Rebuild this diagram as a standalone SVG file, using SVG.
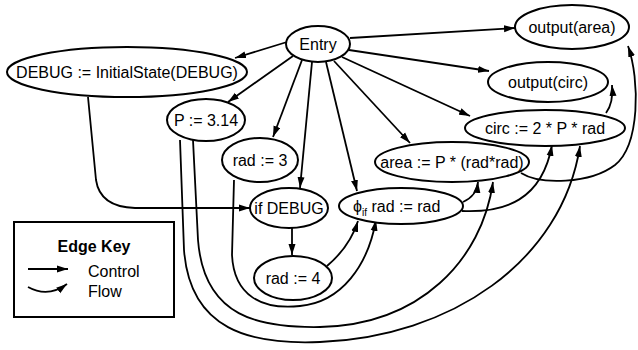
<svg xmlns="http://www.w3.org/2000/svg" width="638" height="350" viewBox="0 0 638 350">
<defs>
<style>
.n ellipse{fill:#fff;stroke:#000;stroke-width:2}
text{font-family:"Liberation Sans",Arial,sans-serif;font-size:16px;fill:#000}
.c{text-anchor:middle}
.e path,.e line{fill:none;stroke:#000;stroke-width:1.8;marker-end:url(#ah)}
.key{fill:none;stroke:#000;stroke-width:2}
</style>
<marker id="ah" markerWidth="12" markerHeight="8" refX="11" refY="4" orient="auto" markerUnits="userSpaceOnUse"><path d="M0,0.5 L11,4 L0,7.5 Z" fill="#000"/></marker>
</defs>
<rect width="638" height="350" fill="#fff"/>
<g id="edges" class="e">
<line x1="350" y1="38" x2="515" y2="28"/>
<line x1="349" y1="50" x2="489" y2="71"/>
<line x1="342" y1="57" x2="470" y2="116"/>
<line x1="334" y1="61" x2="410" y2="143"/>
<line x1="326" y1="62" x2="357" y2="191"/>
<line x1="312" y1="62" x2="300" y2="188"/>
<line x1="302" y1="60" x2="273" y2="137"/>
<line x1="293" y1="56" x2="228" y2="102"/>
<line x1="287" y1="42" x2="235" y2="58"/>
<line x1="292" y1="228" x2="292" y2="255"/>
<path d="M88,97 L96,180 Q100,207 135,208 L250,208"/>
<path d="M193,140 L198,240 C 204,318 260,328 320,327 C 420,325 482,260 493,182"/>
<path d="M180,140 L184,250 C 190,330 250,345 320,342 C 450,337 562,262 580,146"/>
<path d="M234,180 L232,255 C 234,296 262,310 300,306 C 342,302 368,265 376,220"/>
<path d="M327,266 C 340,255 352,240 358,221"/>
<path d="M463,202 C 472,198 477,192 478,182"/>
<path d="M462,211 C 505,213 542,200 552,145"/>
<path d="M521,173 C 540,185 590,184 615,165 C 640,145 640,80 628,46"/>
<path d="M606,113 C 612,105 613,96 612,85"/>
</g>
<g id="n_entry" class="n"><ellipse cx="318" cy="44" rx="32" ry="18"/><text class="c" x="318" y="50">Entry</text></g>
<g id="n_debug" class="n"><ellipse cx="127" cy="72" rx="120" ry="25"/><text class="c" x="127" y="78">DEBUG := InitialState(DEBUG)</text></g>
<g id="n_p" class="n"><ellipse cx="206" cy="120" rx="39" ry="21"/><text class="c" x="206" y="126">P := 3.14</text></g>
<g id="n_rad3" class="n"><ellipse cx="260" cy="160" rx="38" ry="22"/><text class="c" x="260" y="166">rad := 3</text></g>
<g id="n_if" class="n"><ellipse cx="289" cy="208" rx="39" ry="20"/><text class="c" x="289" y="214">if DEBUG</text></g>
<g id="n_rad4" class="n"><ellipse cx="293" cy="278" rx="39" ry="22"/><text class="c" x="293" y="284">rad := 4</text></g>
<g id="n_phi" class="n"><ellipse cx="401" cy="206" rx="62" ry="18"/><text x="353" y="212">ϕ<tspan font-size="10" dy="4">if</tspan><tspan dy="-4"> rad := rad</tspan></text></g>
<g id="n_area" class="n"><ellipse cx="452" cy="162" rx="77" ry="20"/><text class="c" x="452" y="168">area := P * (rad*rad)</text></g>
<g id="n_circ" class="n"><ellipse cx="545" cy="128" rx="80" ry="18"/><text class="c" x="545" y="134">circ := 2 * P * rad</text></g>
<g id="n_outcirc" class="n"><ellipse cx="548" cy="82" rx="60" ry="20"/><text class="c" x="548" y="88">output(circ)</text></g>
<g id="n_outarea" class="n"><ellipse cx="572" cy="27" rx="57" ry="22"/><text class="c" x="572" y="33">output(area)</text></g>
<g id="legend">
<rect class="key" x="14" y="222" width="160" height="95"/>
<text class="c" x="94" y="252" font-weight="bold">Edge Key</text>
<g class="e"><line x1="28" y1="269" x2="68" y2="269"/><path d="M28,287 Q48,298 67,284"/></g>
<text x="88" y="277">Control</text>
<text x="88" y="297">Flow</text>
</g>
</svg>
